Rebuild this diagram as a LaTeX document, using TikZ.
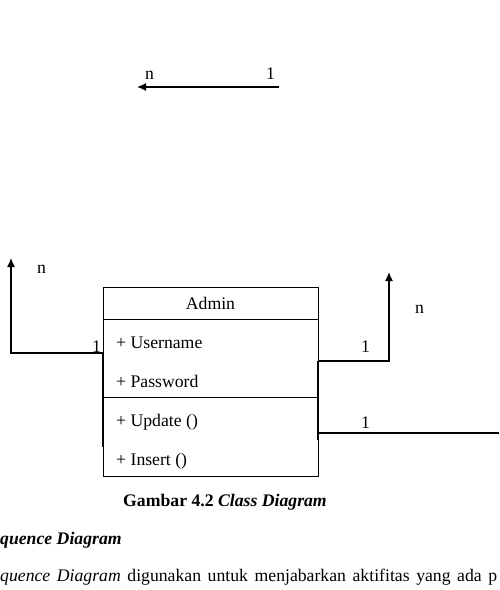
\documentclass[tikz,border=0pt]{standalone}
\usepackage{fontspec}
\setmainfont{Liberation Serif}
\usetikzlibrary{arrows.meta}
\begin{document}
\begin{tikzpicture}[x=1pt,y=-1pt,
  txt/.style={anchor=base west,inner sep=0pt,font=\fontsize{17.7}{20}\selectfont},
  conn/.style={line width=1.4pt},
  arr/.style={conn,-{Latex[length=9pt,width=8pt]}},
  boxline/.style={line width=1pt}]
\useasboundingbox (0,0) rectangle (499,590);
% top association
\coordinate (t1) at (279,87);
\coordinate (t2) at (137,87);
\draw[arr] (t1) -- (t2);
\node[txt] (tn) at (145,79) {n};
\node[txt] (t1l) at (266,79) {1};
% class box
\node[draw,boxline,anchor=north west,minimum width=215pt,minimum height=189pt,inner sep=0pt] (admin) at (103,287) {};
\coordinate (h1) at (103,319);
\coordinate (h2) at (318,319);
\coordinate (s1) at (103,397);
\coordinate (s2) at (318,397);
\draw[boxline] (h1) -- (h2);
\draw[boxline] (s1) -- (s2);
\node[txt,anchor=base] (name) at (210.5,309) {Admin};
\node[txt] (a1) at (116,348) {+ Username};
\node[txt] (a2) at (116,387) {+ Password};
\node[txt] (m1) at (116,426) {+ Update ()};
\node[txt] (m2) at (116,465) {+ Insert ()};
% left association
\coordinate (l0) at (103,353);
\coordinate (l1) at (11,353);
\coordinate (l2) at (11,258);
\draw[conn] (103,353) -- (103,447);
\draw[arr] (l0) -- (l1) -- (l2);
\node[txt] (ln) at (37,273) {n};
\node[txt] (l1l) at (92,352) {1};
% right upper association
\coordinate (r0) at (318,361);
\coordinate (r1) at (389,361);
\coordinate (r2) at (389,272);
\draw[conn] (318,361) -- (318,440);
\draw[arr] (r0) -- (r1) -- (r2);
\node[txt] (rn) at (415,313) {n};
\node[txt] (r1l) at (361,352) {1};
% right lower association
\coordinate (q0) at (318,433);
\coordinate (q1) at (499,433);
\draw[conn] (q0) -- (q1);
\node[txt] (q1l) at (361,428) {1};
% caption and text
\node[txt] (cap) at (123,506) {\textbf{Gambar 4.2 \textit{Class Diagram}}};
\node[txt] (sec) at (0,544) {\textbf{\textit{quence Diagram}}};
\node[txt] (par) at (0,581) {\makebox[497pt][s]{\textit{quence Diagram} digunakan untuk menjabarkan aktifitas yang ada p}};
\end{tikzpicture}
\end{document}
